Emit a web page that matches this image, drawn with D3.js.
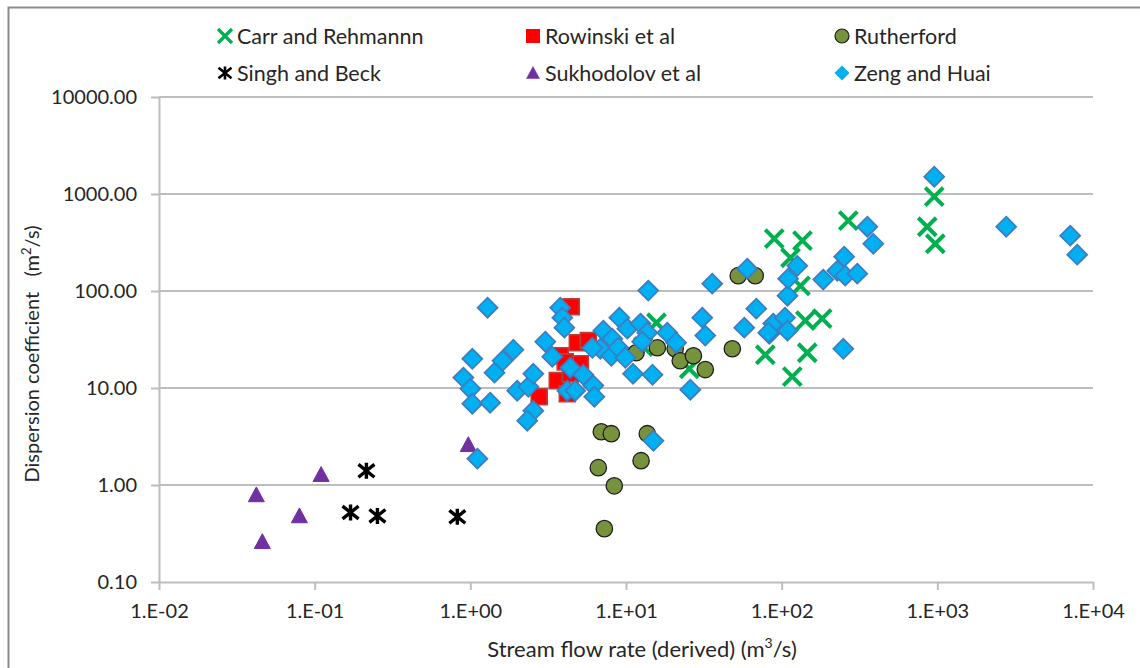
<!DOCTYPE html>
<html>
<head>
<meta charset="utf-8">
<script src="https://cdn.jsdelivr.net/npm/d3@7"></script>
<style>
  html, body { margin: 0; padding: 0; background: #fff; }
  svg text { font-family: Lato, "Liberation Sans", sans-serif; fill: #262626; }
</style>
</head>
<body>
<svg id="chart" width="1140" height="668"></svg>
<script>
// ---- data: stream flow rate Q (m3/s) vs longitudinal dispersion coefficient (m2/s)
const seriesNames = ["Carr and Rehmannn", "Rowinski et al", "Rutherford",
                     "Singh and Beck", "Sukhodolov et al", "Zeng and Huai"];

const carrQ = [955, 861, 970, 268, 89.6, 136, 114, 132, 142, 182, 146, 78.5, 117, 15.7, 25.5, 12.9];
const carrD = [938, 460, 307, 531, 346, 330, 220, 113, 49.4, 51.8, 23.1, 22.0, 13.1, 47.1, 15.8, 26.7];

const rowinskiQ = [4.45, 4.87, 5.73, 3.78, 5.09, 3.62, 4.20, 2.77, 4.39, 4.07];
const rowinskiD = [68.9, 29.3, 30.8, 21.5, 17.8, 11.9, 8.73, 8.13, 14.0, 18.6];

const rutherfordQ = [6.94, 8.05, 13.7, 12.5, 6.64, 8.41, 7.26, 11.6, 15.9, 20.7, 22.3, 27.1, 32.3, 48.2, 52.6, 67.6];
const rutherfordD = [3.54, 3.38, 3.38, 1.78, 1.51, 0.98, 0.355, 23.1, 26.0, 25.4, 19.1, 21.5, 15.5, 25.4, 144, 144];

const singhQ = [0.215, 0.17, 0.253, 0.825];
const singhD = [1.40, 0.52, 0.48, 0.47];

const sukhodolovQ = [0.0422, 0.0461, 0.0798, 0.110, 0.97];
const sukhodolovD = [0.79, 0.26, 0.48, 1.28, 2.6];

const zengQ = [1.29, 3.78, 3.90, 4.02, 1.03, 0.902, 1.0, 1.03, 1.34, 1.43, 1.61, 1.89, 2.00, 2.36, 2.54,
               2.54, 2.32, 3.03, 3.36, 4.39, 5.32, 4.20, 4.72, 6.17, 6.26, 7.15, 8.17, 6.84, 8.05, 6.08,
               9.06, 10.2, 12.4, 13.7, 12.7, 8.93, 9.90, 18.4, 21.0, 30.9, 32.3, 11.1, 14.8, 25.9, 13.9,
               35.8, 1.11, 15.0, 68.7, 57.5, 88.3, 83.3, 105, 109, 109, 110, 60.1, 955, 355, 388,
               2770, 7140, 7920, 252, 126, 185, 228, 256, 306, 249, 82.0];
const zengD = [67.3, 67.3, 53.1, 41.9, 20.0, 12.8, 9.84, 6.89, 7.05, 14.4, 19.1, 24.8, 9.38, 10.3, 14.0,
               5.83, 4.60, 30.0, 21.0, 16.2, 13.7, 9.38, 9.38, 10.6, 8.13, 39.0, 32.2, 25.4, 21.5, 26.0,
               53.1, 40.9, 46.1, 37.2, 30.0, 26.0, 20.5, 37.2, 29.3, 53.1, 34.7, 14.0, 13.7, 9.60, 101,
               119, 1.87, 2.86, 65.8, 41.9, 46.1, 36.3, 53.1, 39.0, 89.5, 134, 170, 1508, 460, 307,
               460, 372, 237, 226, 182, 131, 162, 144, 151, 25.4, 37.2];

const xTickValues = [0.01, 0.1, 1, 10, 100, 1000, 10000];
const xTickLabels = ["1.E-02", "1.E-01", "1.E+00", "1.E+01", "1.E+02", "1.E+03", "1.E+04"];
const yTickValues = [0.1, 1, 10, 100, 1000, 10000];
const yTickLabels = ["0.10", "1.00", "10.00", "100.00", "1000.00", "10000.00"];

// ---- layout
const svg = d3.select("#chart");
const plot = { left: 159, right: 1093, top: 97, bottom: 582 };

const x = d3.scaleLog().domain([0.01, 10000]).range([plot.left, plot.right]);
const y = d3.scaleLog().domain([0.1, 10000]).range([plot.bottom, plot.top]);

const gridColor = "#BDBDBD";

// chart area border
svg.append("rect")
  .attr("x", 8.5).attr("y", 7.5).attr("width", 1150).attr("height", 680)
  .attr("fill", "none").attr("stroke", "#8C8C8C").attr("stroke-width", 2);

// ---- axes
const yAxis = d3.axisLeft(y)
  .tickValues(yTickValues)
  .tickFormat((d, i) => yTickLabels[i])
  .tickSize(8).tickSizeOuter(0).tickPadding(14);
const gy = svg.append("g").attr("transform", `translate(${plot.left},0)`).call(yAxis);

const xAxis = d3.axisBottom(x)
  .tickValues(xTickValues)
  .tickFormat((d, i) => xTickLabels[i])
  .tickSize(8).tickSizeOuter(0).tickPadding(14);
const gx = svg.append("g").attr("transform", `translate(0,${plot.bottom})`).call(xAxis);

[gx, gy].forEach(g => {
  g.select(".domain").attr("stroke", gridColor).attr("stroke-width", 2);
  g.selectAll(".tick line").attr("stroke", gridColor).attr("stroke-width", 2);
  g.selectAll(".tick text")
    .attr("font-family", "Lato, 'Liberation Sans', sans-serif")
    .attr("font-size", 20).attr("fill", "#262626");
});

// horizontal gridlines
svg.append("g").selectAll("line")
  .data(yTickValues.filter(v => v > 0.1))
  .join("line")
  .attr("x1", plot.left).attr("x2", plot.right)
  .attr("y1", d => y(d)).attr("y2", d => y(d))
  .attr("stroke", gridColor).attr("stroke-width", 2);

// axis titles
const xTitle = svg.append("text")
  .attr("x", 642).attr("y", 657)
  .attr("text-anchor", "middle").attr("font-size", 22);
xTitle.append("tspan").text("Stream flow rate (derived) (m");
xTitle.append("tspan").attr("font-size", 14).attr("dy", -9).text("3");
xTitle.append("tspan").attr("dy", 9).text("/s)");

const yTitle = svg.append("text")
  .attr("transform", "translate(39,354) rotate(-90)")
  .attr("text-anchor", "middle").attr("font-size", 20)
  .attr("xml:space", "preserve");
yTitle.append("tspan").text("Dispersion coefficient   (m");
yTitle.append("tspan").attr("font-size", 13).attr("dy", -8).text("2");
yTitle.append("tspan").attr("dy", 8).text("/s)");

// ---- marker shapes (centred at 0,0, s = half width)
const shapes = {
  cross: s => `M${-s},${-s}L${s},${s}M${-s},${s}L${s},${-s}`,
  square: s => `M${-s},${-s}H${s}V${s}H${-s}Z`,
  circle: s => `M${s},0A${s},${s} 0 1,1 ${-s},0A${s},${s} 0 1,1 ${s},0Z`,
  star: s => `M${-s},${-s * 0.8}L${s},${s * 0.8}M${-s},${s * 0.8}L${s},${-s * 0.8}M0,${-s}V${s}`,
  triangle: s => `M0,${-s * 1.0}L${s},${s * 0.85}H${-s}Z`,
  diamond: s => `M0,${-s}L${s},0L0,${s}L${-s},0Z`
};

const series = [
  { name: seriesNames[0], qs: carrQ, ds: carrD, shape: "cross", size: 9, legendSize: 7,
    fill: "none", stroke: "#00B050", sw: 4, lsw: 3.2 },
  { name: seriesNames[1], qs: rowinskiQ, ds: rowinskiD, shape: "square", size: 8, legendSize: 7,
    fill: "#FF0000", stroke: "#B8413E", sw: 1.6, lsw: 0 },
  { name: seriesNames[2], qs: rutherfordQ, ds: rutherfordD, shape: "circle", size: 8.2, legendSize: 7,
    fill: "#76923C", stroke: "#1E1E1E", sw: 1.3, lsw: 1.2 },
  { name: seriesNames[3], qs: singhQ, ds: singhD, shape: "star", size: 8, legendSize: 6.5,
    fill: "none", stroke: "#000000", sw: 3.4, lsw: 2.6 },
  { name: seriesNames[4], qs: sukhodolovQ, ds: sukhodolovD, shape: "triangle", size: 8, legendSize: 6.5,
    fill: "#7030A0", stroke: "#7030A0", sw: 1, lsw: 0.5 },
  { name: seriesNames[5], qs: zengQ, ds: zengD, shape: "diamond", size: 10, legendSize: 7.5,
    fill: "#00B0F0", stroke: "#3F7BC0", sw: 1.7, lsw: 0 }
];

// ---- data points, drawn in series order
series.forEach(s => {
  const pts = s.qs.map((q, i) => ({ q, d: s.ds[i] }));
  svg.append("g").selectAll("path")
    .data(pts)
    .join("path")
    .attr("transform", p => `translate(${x(p.q)},${y(p.d)})`)
    .attr("d", shapes[s.shape](s.size))
    .attr("fill", s.fill)
    .attr("stroke", s.stroke)
    .attr("stroke-width", s.sw)
    .attr("stroke-linejoin", "miter");
});

// ---- legend (3 columns x 2 rows)
const legendCols = [225, 533, 842];
const legendRows = [36, 73];
const legend = svg.append("g");
series.forEach((s, i) => {
  const lx = legendCols[i % 3], ly = legendRows[Math.floor(i / 3)];
  const g = legend.append("g").attr("transform", `translate(${lx},${ly})`);
  g.append("path")
    .attr("d", shapes[s.shape](s.legendSize))
    .attr("fill", s.fill)
    .attr("stroke", s.lsw > 0 ? s.stroke : "none")
    .attr("stroke-width", s.lsw);
  g.append("text")
    .attr("x", 12).attr("y", 0).attr("dy", "0.35em")
    .attr("font-size", 21.5)
    .text(s.name);
});
</script>
</body>
</html>
